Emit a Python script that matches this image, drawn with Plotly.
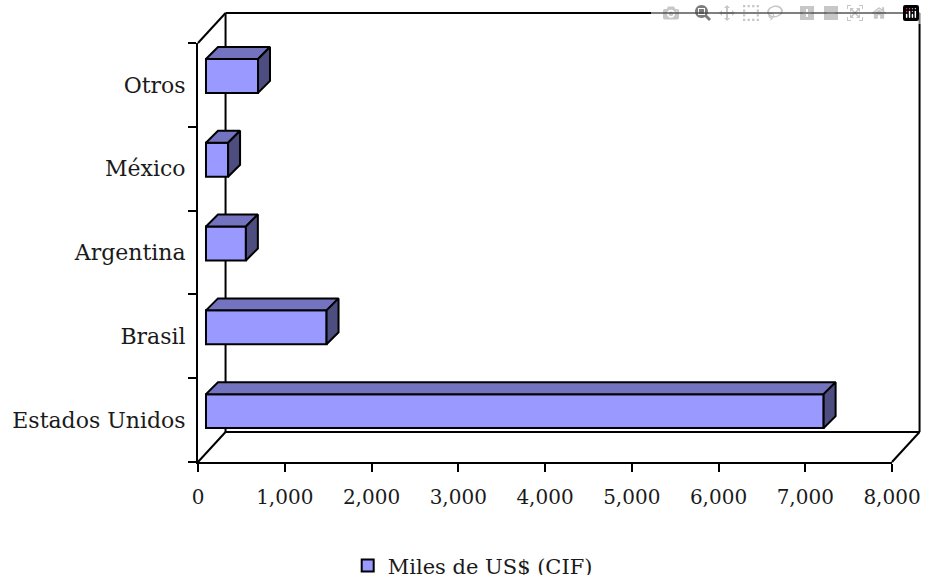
import plotly.graph_objects as go

categories = ["Estados Unidos", "Brasil", "Argentina", "México", "Otros"]
values = [7120, 1390, 460, 255, 600]
x_ticks = [0, 1000, 2000, 3000, 4000, 5000, 6000, 7000, 8000]
series_name = "Miles de US$ (CIF)"

FONT = "DejaVu Serif"
FACE = "#9999FF"
TOP = "#7373BF"
SIDE = "#4D4D80"

# pseudo 3d offsets, in axis units
bar_base = 92
bar_height = 0.405
bar_shift = 0.107
depth_x = 138
depth_y = 0.143

# wall offset, in paper units
wall_x = 0.0397
wall_y = 0.0715

fig = go.Figure()

# front faces
y_pos = [i + bar_shift for i in range(len(values))]
fig.add_trace(go.Bar(
    x=values, y=y_pos, base=bar_base, orientation="h", width=bar_height,
    marker=dict(color=FACE, line=dict(color="black", width=2)),
    name=series_name, showlegend=True,
))

# top and side faces of each bar
for v, y in zip(values, y_pos):
    x0 = bar_base
    x1 = bar_base + v
    y0 = y - bar_height / 2
    y1 = y + bar_height / 2
    fig.add_trace(go.Scatter(
        x=[x0, x0 + depth_x, x1 + depth_x, x1, x0],
        y=[y1, y1 + depth_y, y1 + depth_y, y1, y1],
        mode="lines", fill="toself", fillcolor=TOP,
        line=dict(color="black", width=2), showlegend=False, hoverinfo="skip",
    ))
    fig.add_trace(go.Scatter(
        x=[x1, x1 + depth_x, x1 + depth_x, x1, x1],
        y=[y1, y1 + depth_y, y0 + depth_y, y0, y1],
        mode="lines", fill="toself", fillcolor=SIDE,
        line=dict(color="black", width=2), showlegend=False, hoverinfo="skip",
    ))

# back walls and floor
wall_lines = [
    (0, 1, wall_x, 1 + wall_y),
    (wall_x, wall_y, wall_x, 1 + wall_y),
    (wall_x, 1 + wall_y, 1 + wall_x, 1 + wall_y),
    (1 + wall_x, 1 + wall_y, 1 + wall_x, wall_y),
    (wall_x, wall_y, 1 + wall_x, wall_y),
    (0, 0, wall_x, wall_y),
    (1, 0, 1 + wall_x, wall_y),
]
shapes = [
    dict(type="line", xref="paper", yref="paper", x0=a, y0=b, x1=c, y1=d,
         layer="below", line=dict(color="black", width=2))
    for a, b, c, d in wall_lines
]

fig.update_layout(
    width=925, height=575,
    margin=dict(l=198, r=33, t=43, b=113, autoexpand=False),
    paper_bgcolor="white", plot_bgcolor="rgba(0,0,0,0)",
    font=dict(family=FONT, size=20, color="#1a1a1a"),
    shapes=shapes,
    barmode="overlay",
    xaxis=dict(
        range=[0, 8000], tickvals=x_ticks, tickformat=",d",
        showgrid=False, zeroline=False, showline=True, linecolor="black", linewidth=2,
        ticks="outside", ticklen=8, tickwidth=2, tickcolor="black",
        ticklabelstandoff=8,
    ),
    yaxis=dict(
        range=[-0.5, 4.5], tickvals=list(range(len(categories))), ticktext=categories,
        showgrid=False, zeroline=False, showline=True, linecolor="black", linewidth=2,
        ticks="outside", ticklen=6, tickwidth=2, tickcolor="rgba(0,0,0,0)",
        tickfont=dict(size=22),
        minor=dict(tickvals=[-0.5, 0.5, 1.5, 2.5, 3.5, 4.5], ticks="outside",
                   ticklen=8, tickwidth=2, tickcolor="black", showgrid=False),
    ),
    legend=dict(x=0.2157, y=-0.248, xanchor="left", yanchor="middle",
                bgcolor="rgba(0,0,0,0)", font=dict(size=21), itemwidth=30),
)

# drop the default page margin so the figure fills the window
fig.write_html("out.html", post_script="document.body.style.margin='0';document.documentElement.style.overflow='hidden';")
